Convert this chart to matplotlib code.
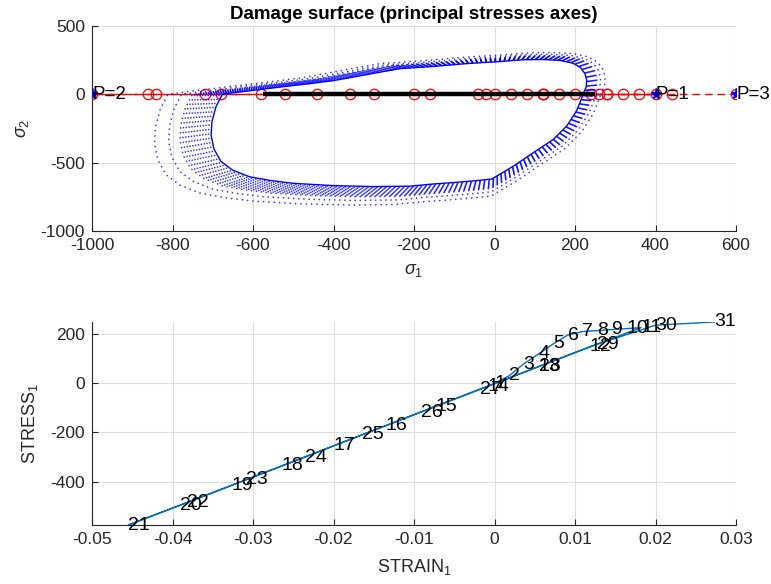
import matplotlib
matplotlib.use("Agg")
import matplotlib.pyplot as plt
from matplotlib.ticker import FixedLocator, FixedFormatter

plt.rcParams['font.family'] = ['Liberation Sans', 'DejaVu Sans']
plt.rcParams['mathtext.fontset'] = 'custom'
plt.rcParams['mathtext.rm'] = 'Liberation Sans'
plt.rcParams['mathtext.it'] = 'Liberation Sans:italic'
plt.rcParams['axes.unicode_minus'] = False
plt.rcParams['lines.scale_dashes'] = False

# ---------------- data ----------------
point_ids = list(range(1, 32))
strain1 = [0.0, 0.0018, 0.0036, 0.0055, 0.0073, 0.0091, 0.0109, 0.0127, 0.0145, 0.0164,
           0.0182, 0.0118, 0.0055, -0.0009, -0.0073, -0.0136, -0.0200, -0.0264, -0.0327,
           -0.0391, -0.0455, -0.0382, -0.0309, -0.0236, -0.0164, -0.0091, -0.0018, 0.0055,
           0.0127, 0.0200, 0.0273]
stress1 = [0, 30, 78, 120, 160, 196, 210, 214, 218, 222, 226, 148, 68, -12, -93, -173,
           -254, -335, -415, -496, -576, -485, -393, -301, -209, -117, -25, 68, 158, 236, 249]

# applied (trial) stress path along sigma_2 = 0 (red circles)
trial_sigma1 = [0, 40, 80, 120, 160, 200, 240, 280, 320, 360, 400, 260, 120, -20, -160,
                -300, -440, -580, -720, -860, -1000, -840, -680, -520, -360, -200, -40,
                120, 280, 440, 600]

p_labels = ['P=1', 'P=2', 'P=3']
p_sigma1 = [400, -1000, 600]

surf_s1 = [220, 228, 229, 225, 214, 195, 163, 120, 70, 14, -69, -152, -235, -300, -350,
           -401, -460, -525, -600, -645, -676, -692, -702, -704, -697, -680, -651, -609,
           -558, -500, -400, -300, -210, -152, -100, -50, -7, 50, 100, 146, 180, 204, 215, 220]
surf_s2 = [0, 56, 105, 150, 195, 228, 248, 255, 253, 240, 225, 204, 188, 154, 127,
           100, 78, 56, 29, 13, 0, -90, -200, -300, -400, -490, -554, -603,
           -630, -651, -668, -675, -672, -656, -645, -633, -620, -520, -420, -330, -230, -120, -40, 0]
# scale factors of the evolved (dotted) surfaces
surface_scales = [1.01, 1.02, 1.03, 1.04, 1.05, 1.06, 1.07, 1.08, 1.09, 1.10, 1.11, 1.15, 1.20]

x1_ticks = [-1000, -800, -600, -400, -200, 0, 200, 400, 600]
y1_ticks = [-1000, -500, 0, 500]
x2_ticks = [-0.05, -0.04, -0.03, -0.02, -0.01, 0, 0.01, 0.02, 0.03]
x2_ticklabels = ['-0.05', '-0.04', '-0.03', '-0.02', '-0.01', '0', '0.01', '0.02', '0.03']
y2_ticks = [-400, -200, 0, 200]

# ---------------- figure ----------------
W, H = 771, 584
fig = plt.figure(figsize=(W / 100, H / 100), dpi=100)

def px_axes(l, t, r, b):
    return [l / W, 1 - b / H, (r - l) / W, (b - t) / H]

ax1 = fig.add_axes(px_axes(92, 26, 736, 231))
ax2 = fig.add_axes(px_axes(92, 322, 736, 525))

dark = '#262626'
grid_c = '#dedede'
for ax in (ax1, ax2):
    for s in ('top', 'right'):
        ax.spines[s].set_visible(False)
    for s in ('left', 'bottom'):
        ax.spines[s].set_color(dark)
        ax.spines[s].set_linewidth(0.8)
    ax.tick_params(direction='in', length=4, width=0.8, colors=dark, labelsize=12.5, pad=5)
    ax.grid(True, color=grid_c, linewidth=0.8)
    ax.set_axisbelow(True)

# ---- top plot ----
ax1.plot(trial_sigma1, [0] * len(trial_sigma1), color='red', lw=1.0,
         linestyle=(0, (5.5, 3.5)), marker='o', ms=7.5, mfc='none', mec='red', mew=0.9, zorder=3)

period = 3.2
for k in surface_scales:
    ax1.plot([k * v for v in surf_s1], [k * v for v in surf_s2], color='blue', lw=1.25,
             linestyle=(0, (0.01, period * k)), dash_capstyle='round', alpha=0.8, zorder=4)
ax1.plot(surf_s1, surf_s2, color='blue', lw=1.0, zorder=5)

ax1.plot([min(stress1), max(stress1)], [0, 0], color='black', lw=3.2,
         solid_capstyle='butt', zorder=6)
ax1.plot(p_sigma1, [0] * len(p_sigma1), linestyle='none', marker='*', color='blue', ms=8, zorder=7)
for lab, xv in zip(p_labels, p_sigma1):
    ax1.text(xv, 0, lab, ha='left', va='center', fontsize=13.5, color='black', zorder=8)

ax1.set_xlim(-1000, 600)
ax1.set_ylim(-1000, 500)
ax1.xaxis.set_major_locator(FixedLocator(x1_ticks))
ax1.yaxis.set_major_locator(FixedLocator(y1_ticks))
ax1.set_title('Damage surface (principal stresses axes)', fontsize=13.5, fontweight='bold',
              color='black', pad=5)
ax1.set_xlabel(r'$\sigma_1$', fontsize=13, color=dark)
ax1.set_ylabel(r'$\sigma_2$', fontsize=13, color=dark)
ax1.xaxis.set_label_coords(0.5, -0.15)
ax1.yaxis.set_label_coords(-0.095, 0.5)

# ---- bottom plot ----
ax2.plot(strain1, stress1, color='#0072BD', lw=1.0, zorder=3)
for i, xv, yv in zip(point_ids, strain1, stress1):
    ax2.text(xv, yv, str(i), ha='left', va='center', fontsize=14, color='black', zorder=4)

ax2.set_xlim(-0.05, 0.03)
ax2.set_ylim(min(stress1), max(stress1))
ax2.xaxis.set_major_locator(FixedLocator(x2_ticks))
ax2.xaxis.set_major_formatter(FixedFormatter(x2_ticklabels))
ax2.yaxis.set_major_locator(FixedLocator(y2_ticks))
ax2.set_xlabel('STRAIN$_1$', fontsize=13, color=dark)
ax2.set_ylabel('STRESS$_1$', fontsize=13, color=dark)
ax2.xaxis.set_label_coords(0.5, -0.16)
ax2.yaxis.set_label_coords(-0.08, 0.5)

fig.savefig('out.png', dpi=100)
